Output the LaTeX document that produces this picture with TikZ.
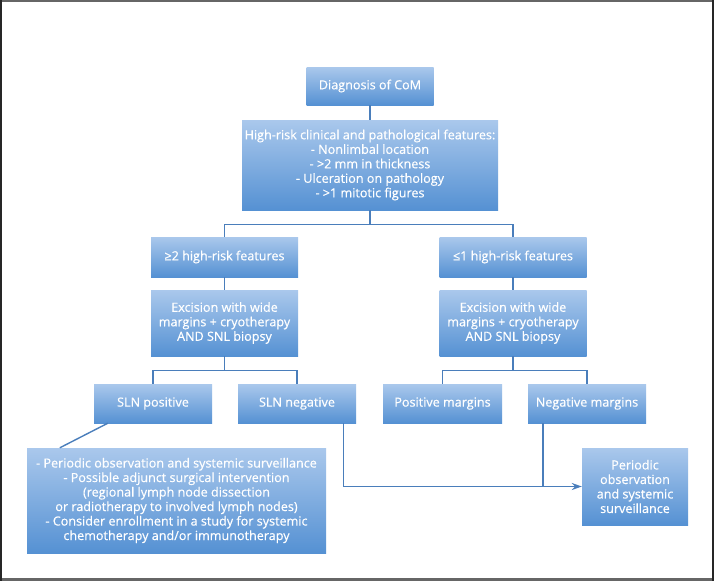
\documentclass[tikz,border=0pt]{standalone}
\usepackage{fontspec}
\setmainfont{Open Sans}
\newfontfamily\boxfont{Open Sans}[FakeBold=0.5]
\usetikzlibrary{arrows.meta}
\definecolor{boxtop}{HTML}{AAC8EC}
\definecolor{boxbot}{HTML}{5591D3}
\definecolor{lnk}{HTML}{4A7EBB}
\begin{document}
\begin{tikzpicture}[x=1pt,y=-1pt,
  box/.style={top color=boxtop,bottom color=boxbot,text=white,align=center,inner sep=0pt,
    font=\boxfont\fontsize{12.6}{14.5}\selectfont},
  conn/.style={draw=lnk,line width=1.4pt}]
\useasboundingbox (0,0) rectangle (714,581);
\fill[white] (0,0) rectangle (714,581);
\draw[line width=2pt,draw=black!60] (0,1) -- (714,1);
\draw[line width=2.5pt,draw=black!60] (0,579.7) -- (714,579.7);
\draw[line width=2.5pt,draw=black!85] (1.2,0) -- (1.2,581);
\draw[line width=2.5pt,draw=black!85] (712.8,0) -- (712.8,581);

\node[box,minimum width=127pt,minimum height=38pt] (diag) at (370,86) {Diagnosis of CoM};
\node[box,minimum width=256pt,minimum height=90pt] (hr) at (370,165)
  {High-risk clinical and pathological features:\\- Nonlimbal location\\- >2 mm in thickness\\- Ulceration on pathology\\- >1 mitotic figures};
\node[box,minimum width=147pt,minimum height=40pt] (ge2) at (224.5,257) {≥2 high-risk features};
\node[box,minimum width=147pt,minimum height=66pt] (ex1) at (224.5,323) {Excision with wide\\margins + cryotherapy\\AND SNL biopsy};
\node[box,minimum width=147pt,minimum height=40pt] (le1) at (513,257) {≤1 high-risk features};
\node[box,minimum width=147pt,minimum height=66pt] (ex2) at (513,323) {Excision with wide\\margins + cryotherapy\\AND SNL biopsy};
\node[box,minimum width=118pt,minimum height=39pt] (slnp) at (153,403.5) {SLN positive};
\node[box,minimum width=118pt,minimum height=39pt] (slnn) at (297,403.5) {SLN negative};
\node[box,minimum width=119pt,minimum height=39pt] (posm) at (442.5,403.5) {Positive margins};
\node[box,minimum width=118pt,minimum height=39pt] (negm) at (587,403.5) {Negative margins};
\node[box,minimum width=299pt,minimum height=105pt] (big) at (176.5,500.5)
  {- Periodic observation and systemic surveillance\\- Possible adjunct surgical intervention\\(regional lymph node dissection\\or radiotherapy to involved lymph nodes)\\- Consider enrollment in a study for systemic\\chemotherapy and/or immunotherapy};
\node[box,minimum width=106pt,minimum height=77pt] (per) at (635,486.5)
  {Periodic\\observation\\and systemic\\surveillance};

\draw[conn] (diag.south) -- (hr.north);
\draw[conn] (hr.south) -- ++(0,14) coordinate (s1);
\draw[conn] (ge2.north) |- (s1) -| (le1.north);
\draw[conn] (ge2.south) -- (ex1.north);
\draw[conn] (le1.south) -- (ex2.north);
\draw[conn] (ex1.south) -- ++(0,14) coordinate (s2);
\draw[conn] (slnp.north) |- (s2) -| (slnn.north);
\draw[conn] (ex2.south) -- ++(0,14) coordinate (s3);
\draw[conn] (posm.north) |- (s3) -| (negm.north);
\coordinate (dp) at ([xshift=14pt]slnp.south west);
\coordinate (db) at ([xshift=33pt]big.north west);
\draw[conn] (dp) -- (db);
\coordinate (sn) at ([xshift=-13pt]slnn.south east);
\draw[conn,-{Stealth[length=10pt,width=7pt]}] (sn) |- (per.west);
\coordinate (nm) at ([xshift=15pt]negm.south west);
\draw[conn] (nm) -- (nm |- per.west);
\end{tikzpicture}
\end{document}
